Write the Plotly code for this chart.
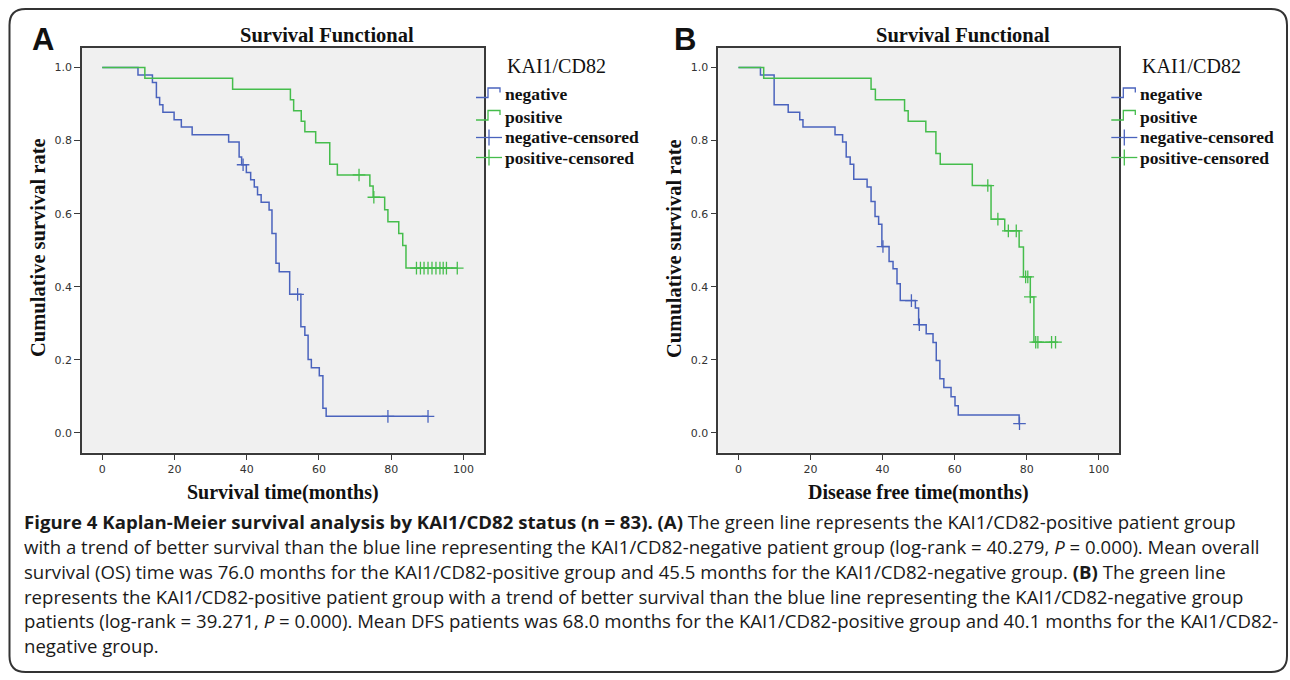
import plotly.graph_objects as go

W, H = 1290, 680

# ---------------- data ----------------
# Panel A: overall survival (months)
A_neg_t = [0, 9.9, 13.9, 15.0, 15.9, 16.8, 19.9, 21.9, 24.9, 35.0, 37.9, 38.6, 39.9, 41.1, 42.1,
           43.0, 44.0, 46.2, 47.0, 48.1, 49.0, 51.9, 55.0, 56.1, 57.0, 57.9, 60.1, 61.1, 62.0]
A_neg_s = [1.0, 0.980, 0.959, 0.918, 0.898, 0.878, 0.857, 0.837, 0.816, 0.796, 0.755, 0.734, 0.713,
           0.693, 0.673, 0.652, 0.631, 0.610, 0.546, 0.464, 0.441, 0.379, 0.290, 0.267, 0.201,
           0.178, 0.156, 0.067, 0.045]
A_neg_ct = [39.0, 54.1, 79.1, 90.2]
A_neg_cs = [0.734, 0.379, 0.045, 0.045]

A_pos_t = [0, 11.8, 36.1, 52.1, 53.0, 55.1, 56.1, 59.1, 63.0, 65.1, 74.1, 75.0, 78.2, 79.1, 82.1,
           83.2, 84.1]
A_pos_s = [1.0, 0.971, 0.941, 0.912, 0.882, 0.853, 0.824, 0.794, 0.735, 0.706, 0.676, 0.645,
           0.611, 0.578, 0.546, 0.513, 0.451]
A_pos_ct = [71.1, 75.2, 87.0, 88.1, 89.1, 90.2, 91.3, 92.4, 93.5, 94.4, 95.3, 98.3]
A_pos_cs = [0.706, 0.645, 0.451, 0.451, 0.451, 0.451, 0.451, 0.451, 0.451, 0.451, 0.451, 0.451]

# Panel B: disease free time (months)
B_neg_t = [0, 6.1, 9.9, 13.8, 17.0, 17.9, 26.8, 28.9, 29.9, 31.0, 32.0, 35.7, 36.8, 37.9, 38.9,
           39.8, 41.8, 42.9, 44.0, 44.9, 49.1, 50.0, 52.1, 54.0, 54.9, 55.9, 57.0, 59.0, 60.1,
           61.0, 77.9]
B_neg_s = [1.0, 0.980, 0.898, 0.878, 0.857, 0.837, 0.816, 0.796, 0.755, 0.735, 0.694, 0.673,
           0.633, 0.592, 0.571, 0.510, 0.469, 0.449, 0.408, 0.362, 0.342, 0.296, 0.271, 0.247,
           0.198, 0.148, 0.124, 0.099, 0.074, 0.049, 0.025]
B_neg_ct = [40.1, 48.0, 50.2, 78.0]
B_neg_cs = [0.510, 0.362, 0.296, 0.025]

B_pos_t = [0, 7.0, 36.8, 38.0, 46.1, 47.1, 52.0, 54.8, 56.0, 64.9, 70.1, 73.9, 77.9, 79.1, 81.0,
           82.0]
B_pos_s = [1.0, 0.971, 0.941, 0.912, 0.882, 0.853, 0.824, 0.765, 0.735, 0.677, 0.585, 0.553,
           0.509, 0.427, 0.372, 0.248]
B_pos_ct = [69.2, 72.0, 74.9, 77.1, 79.7, 80.3, 81.0, 82.5, 83.1, 86.9, 88.0]
B_pos_cs = [0.677, 0.585, 0.553, 0.553, 0.427, 0.427, 0.372, 0.248, 0.248, 0.248, 0.248]

x_ticks = [0, 20, 40, 60, 80, 100]
y_ticks = [0.0, 0.2, 0.4, 0.6, 0.8, 1.0]

panel_letters = ["A", "B"]
panel_titles = ["Survival Functional", "Survival Functional"]
x_titles = ["Survival time(months)", "Disease free time(months)"]
y_title = "Cumulative survival rate"
legend_title = "KAI1/CD82"
legend_labels = ["negative", "positive", "negative-censored", "positive-censored"]

caption_lines = [
    "<b>Figure 4 Kaplan-Meier survival analysis by KAI1/CD82 status (n = 83). (A)</b> The green line represents the KAI1/CD82-positive patient group",
    "with a trend of better survival than the blue line representing the KAI1/CD82-negative patient group (log-rank = 40.279, <i>P</i> = 0.000). Mean overall",
    "survival (OS) time was 76.0 months for the KAI1/CD82-positive group and 45.5 months for the KAI1/CD82-negative group. <b>(B)</b> The green line",
    "represents the KAI1/CD82-positive patient group with a trend of better survival than the blue line representing the KAI1/CD82-negative group",
    "patients (log-rank = 39.271, <i>P</i> = 0.000). Mean DFS patients was 68.0 months for the KAI1/CD82-positive group and 40.1 months for the KAI1/CD82-",
    "negative group.",
]

# ---------------- style ----------------
BLUE = "#4a63bd"
GREEN = "#45bd4c"
FRAME = "#3a3a3a"
SERIF = "Liberation Serif"
SANS = "DejaVu Sans"


def px(x):
    return x / W


def py(y):
    return 1 - y / H


frame_left = [82.0, 718.3]
frame_right = [484.0, 1119.3]
frame_top, frame_bottom = 47.5, 452.5
title_cx = [327.0, 962.5]

fig = go.Figure()

panels = [
    (A_neg_t, A_neg_s, A_neg_ct, A_neg_cs, A_pos_t, A_pos_s, A_pos_ct, A_pos_cs),
    (B_neg_t, B_neg_s, B_neg_ct, B_neg_cs, B_pos_t, B_pos_s, B_pos_ct, B_pos_cs),
]

for i, (nt, ns, nct, ncs, pt, ps, pct, pcs) in enumerate(panels):
    xa = "x" if i == 0 else "x2"
    ya = "y" if i == 0 else "y2"
    for t, s, ct, col in [(nt, ns, nct, BLUE), (pt, ps, pct, GREEN)]:
        fig.add_trace(go.Scatter(
            x=t + [max(ct)], y=s + [s[-1]], mode="lines", line=dict(color=col, width=1.5, shape="hv"),
            xaxis=xa, yaxis=ya, showlegend=False, hoverinfo="skip"))
    for ct, cs, col in [(nct, ncs, BLUE), (pct, pcs, GREEN)]:
        fig.add_trace(go.Scatter(
            x=ct, y=cs, mode="markers",
            marker=dict(symbol="cross-thin-open", size=9, color=col, line=dict(color=col, width=1.3)),
            xaxis=xa, yaxis=ya, showlegend=False, hoverinfo="skip"))

axis_common = dict(showgrid=False, zeroline=False, showline=True, mirror=True,
                   linecolor=FRAME, linewidth=1.5, ticks="outside", ticklen=6,
                   tickcolor=FRAME, tickwidth=1.3,
                   tickfont=dict(family=SANS, size=11, color="#333333"))

layout = dict(
    width=W, height=H, margin=dict(l=0, r=0, t=0, b=0),
    paper_bgcolor="white", plot_bgcolor="#f0f0f0", showlegend=False,
)
for i in range(2):
    sx = "" if i == 0 else "2"
    layout["xaxis" + sx] = dict(axis_common, domain=[px(frame_left[i]), px(frame_right[i])],
                                range=[-5.6, 105.7], tickvals=x_ticks,
                                anchor="y" + sx)
    layout["yaxis" + sx] = dict(axis_common, domain=[py(frame_bottom), py(frame_top)],
                                range=[-0.054, 1.055], tickvals=y_ticks, tickformat=".1f",
                                anchor="x" + sx)
fig.update_layout(**layout)

ann = []
shapes = []
for i in range(2):
    L, R = frame_left[i], frame_right[i]
    cx = (L + R) / 2
    # panel letter
    ann.append(dict(x=px(30 + 642 * i), y=py(39), xref="paper", yref="paper", text="<b>%s</b>" % panel_letters[i],
                    showarrow=False, xanchor="left", yanchor="middle",
                    font=dict(family="Liberation Sans", size=31, color="#111")))
    # title
    ann.append(dict(x=px(title_cx[i]), y=py(35), xref="paper", yref="paper", text="<b>%s</b>" % panel_titles[i],
                    showarrow=False, xanchor="center", yanchor="middle",
                    font=dict(family=SERIF, size=20.5, color="#111")))
    # x title
    ann.append(dict(x=px(cx), y=py(492), xref="paper", yref="paper", text="<b>%s</b>" % x_titles[i],
                    showarrow=False, xanchor="center", yanchor="middle",
                    font=dict(family=SERIF, size=20, color="#111")))
    # y title
    ann.append(dict(x=px(38 + 636 * i), y=py(248), xref="paper", yref="paper", text="<b>%s</b>" % y_title,
                    showarrow=False, xanchor="center", yanchor="middle", textangle=-90,
                    font=dict(family=SERIF, size=20.5, color="#111")))
    # legend title
    ann.append(dict(x=px(R + 21), y=py(66), xref="paper", yref="paper", text=legend_title,
                    showarrow=False, xanchor="left", yanchor="middle",
                    font=dict(family=SERIF, size=20, color="#111")))
    item_y = [94, 116.5, 137.5, 157.5]
    cols = [BLUE, GREEN, BLUE, GREEN]
    for k, lab in enumerate(legend_labels):
        yy = item_y[k]
        ann.append(dict(x=px(R + 18.5), y=py(yy), xref="paper", yref="paper", text="<b>%s</b>" % lab,
                        showarrow=False, xanchor="left", yanchor="middle",
                        font=dict(family=SERIF, size=17.5, color="#111")))
        x0 = R - 8
        if k < 2:
            path = "M %f %f L %f %f L %f %f L %f %f L %f %f" % (
                px(x0), py(yy + 3.5), px(x0 + 12), py(yy + 3.5), px(x0 + 12), py(yy - 6),
                px(x0 + 24), py(yy - 6), px(x0 + 24), py(yy - 1.5))
            shapes.append(dict(type="path", xref="paper", yref="paper", path=path,
                               line=dict(color=cols[k], width=1.3)))
        else:
            shapes.append(dict(type="line", xref="paper", yref="paper", x0=px(x0), x1=px(x0 + 26),
                               y0=py(yy), y1=py(yy), line=dict(color=cols[k], width=1.3)))
            shapes.append(dict(type="line", xref="paper", yref="paper", x0=px(x0 + 13), x1=px(x0 + 13),
                               y0=py(yy - 8), y1=py(yy + 8), line=dict(color=cols[k], width=1.3)))

# caption
cap_y = [521, 546, 571, 596, 620, 645]
for line, yy in zip(caption_lines, cap_y):
    ann.append(dict(x=px(22), y=py(yy), xref="paper", yref="paper", text=line,
                    showarrow=False, xanchor="left", yanchor="middle",
                    font=dict(family="Open Sans", size=18.6, color="#1a1a1a")))

# outer rounded border
r = 16
x0b, y0b, x1b, y1b = 9.5, 9, 1287, 672
border = ("M %f %f L %f %f Q %f %f %f %f L %f %f Q %f %f %f %f L %f %f Q %f %f %f %f L %f %f Q %f %f %f %f Z" % (
    px(x0b + r), py(y0b), px(x1b - r), py(y0b), px(x1b), py(y0b), px(x1b), py(y0b + r),
    px(x1b), py(y1b - r), px(x1b), py(y1b), px(x1b - r), py(y1b),
    px(x0b + r), py(y1b), px(x0b), py(y1b), px(x0b), py(y1b - r),
    px(x0b), py(y0b + r), px(x0b), py(y0b), px(x0b + r), py(y0b)))
shapes.append(dict(type="path", xref="paper", yref="paper", path=border,
                   line=dict(color="#333333", width=2), layer="below"))

fig.update_layout(annotations=ann, shapes=shapes)

fig.write_html("out.html", config={"displayModeBar": False},
               post_script="document.body.style.margin='0';document.body.style.overflow='hidden';")
